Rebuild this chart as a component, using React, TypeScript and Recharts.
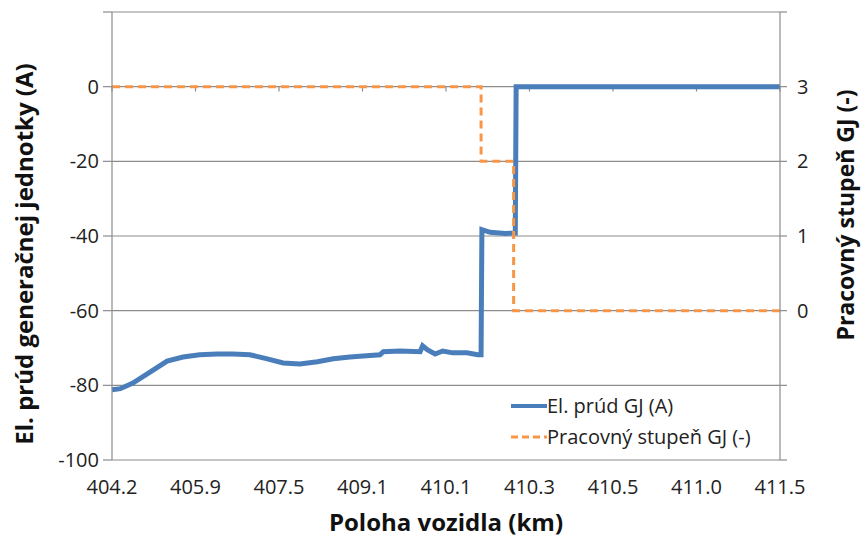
import React from "react";
import {
  CartesianGrid,
  Label,
  Line,
  LineChart,
  ReferenceLine,
  XAxis,
  YAxis,
} from "recharts";

// x positions are in units of the category label step (0 = 404.2, 8 = 411.5)
const xLabels = ["404.2", "405.9", "407.5", "409.1", "410.1", "410.3", "410.5", "411.0", "411.5"];
const xTicks = [0, 1, 2, 3, 4, 5, 6, 7, 8];

const currentPos = [
  0, 0.1, 0.25, 0.46, 0.66, 0.85, 1.05, 1.26, 1.45, 1.65, 1.86, 2.05, 2.25,
  2.46, 2.65, 2.85, 3.05, 3.21, 3.25, 3.45, 3.69, 3.72, 3.78, 3.87, 3.96,
  4.08, 4.25, 4.38, 4.42, 4.43, 4.53, 4.71, 4.83, 4.84, 8,
];
const currentVal = [
  -81.2, -80.9, -79.4, -76.4, -73.5, -72.4, -71.8, -71.6, -71.6, -71.8, -72.9,
  -74.0, -74.3, -73.7, -72.9, -72.4, -72.1, -71.8, -71.0, -70.8, -71.0, -69.4,
  -70.5, -71.6, -70.8, -71.3, -71.3, -71.8, -71.8, -38.3, -39.0, -39.3, -39.2,
  0, 0,
];

const stagePos = [0, 4.42, 4.42, 4.81, 4.81, 8];
const stageVal = [3, 3, 2, 2, 0, 0];

const leftTicks = [-100, -80, -60, -40, -20, 0, 20];
const rightTicks = [-2, -1, 0, 1, 2, 3, 4];

const currentData = currentPos.map((u, i) => ({ u, prud: currentVal[i] }));
const stageData = stagePos.map((u, i) => ({ u, stupen: stageVal[i] }));

const FONT = "'Open Sans', 'Noto Sans', sans-serif";
const GRID = "#8c8c8c";
const BLUE = "#4a7ebb";
const ORANGE = "#f79646";

function LegendBox() {
  return (
    <div
      style={{
        position: "absolute",
        left: 511,
        top: 390,
        fontFamily: FONT,
        fontSize: 20,
        color: "#222",
        lineHeight: "31px",
      }}
    >
      <div style={{ display: "flex", alignItems: "center" }}>
        <svg width={36} height={8}>
          <line x1={0} y1={4} x2={36} y2={4} stroke={BLUE} strokeWidth={4} />
        </svg>
        <span>El. prúd GJ (A)</span>
      </div>
      <div style={{ display: "flex", alignItems: "center" }}>
        <svg width={36} height={8}>
          <line x1={0} y1={4} x2={36} y2={4} stroke={ORANGE} strokeWidth={3} strokeDasharray="7 4" />
        </svg>
        <span>Pracovný stupeň GJ (-)</span>
      </div>
    </div>
  );
}

const titleStyle = { fontSize: 23, fontWeight: 700, fill: "#111", fontFamily: FONT };

export default function App() {
  return (
    <div style={{ position: "absolute", left: 0, top: 0, width: 861, height: 544, background: "#fff" }}>
      <LineChart
        width={861}
        height={544}
        margin={{ top: 12, right: 0, bottom: 0, left: 0 }}
        style={{ fontFamily: FONT }}
      >
        <CartesianGrid yAxisId="left" vertical={false} stroke={GRID} strokeWidth={1.2} />
        <XAxis
          dataKey="u"
          type="number"
          domain={[0, 8]}
          ticks={xTicks}
          tickFormatter={(v: number) => xLabels[v]}
          axisLine={false}
          tickLine={false}
          height={84}
          tick={{ fill: "#222", fontSize: 20 }}
          tickMargin={14}
          interval={0}
        >
          <Label
            content={({ viewBox }: any) => (
              <text
                x={viewBox.x + viewBox.width / 2}
                y={viewBox.y + 71}
                textAnchor="middle"
                style={{ ...titleStyle, fontSize: 24 }}
              >
                Poloha vozidla (km)
              </text>
            )}
          />
        </XAxis>
        <YAxis
          yAxisId="left"
          domain={[-100, 20]}
          ticks={leftTicks}
          tickFormatter={(v: number) => (v === 20 ? "" : String(v))}
          width={112}
          axisLine={{ stroke: GRID, strokeWidth: 1.2 }}
          tickLine={{ stroke: GRID, strokeWidth: 1.2 }}
          tickSize={9}
          tick={{ fill: "#222", fontSize: 20 }}
          tickMargin={4}
        >
          <Label
            content={({ viewBox }: any) => {
              const cx = viewBox.x + 23;
              const cy = viewBox.y + viewBox.height / 2 + 18;
              return (
                <text
                  x={cx}
                  y={cy}
                  transform={`rotate(-90 ${cx} ${cy})`}
                  textAnchor="middle"
                  dominantBaseline="central"
                  style={{ ...titleStyle, fontSize: 24 }}
                >
                  El. prúd generačnej jednotky (A)
                </text>
              );
            }}
          />
        </YAxis>
        <YAxis
          yAxisId="right"
          orientation="right"
          domain={[-2, 4]}
          ticks={rightTicks}
          tickFormatter={(v: number) => (v >= 0 && v <= 3 ? String(v) : "")}
          width={81}
          axisLine={{ stroke: GRID, strokeWidth: 1.2 }}
          tickLine={{ stroke: GRID, strokeWidth: 1.2 }}
          tickSize={7}
          tick={{ fill: "#222", fontSize: 20 }}
          tickMargin={10}
        >
          <Label
            content={({ viewBox }: any) => {
              const cx = viewBox.x + 65;
              const cy = viewBox.y + 203;
              return (
                <text
                  x={cx}
                  y={cy}
                  transform={`rotate(-90 ${cx} ${cy})`}
                  textAnchor="middle"
                  dominantBaseline="central"
                  style={titleStyle}
                >
                  Pracovný stupeň GJ (-)
                </text>
              );
            }}
          />
        </YAxis>
        {xTicks.map((t) => (
          <ReferenceLine
            key={t}
            yAxisId="left"
            segment={[
              { x: t, y: 0 },
              { x: t, y: -1.3 },
            ]}
            stroke={GRID}
            strokeWidth={1.2}
          />
        ))}
        <Line
          yAxisId="left"
          data={currentData}
          dataKey="prud"
          name="El. prúd GJ (A)"
          type="linear"
          stroke={BLUE}
          strokeWidth={5}
          dot={false}
          isAnimationActive={false}
        />
        <Line
          yAxisId="right"
          data={stageData}
          dataKey="stupen"
          name="Pracovný stupeň GJ (-)"
          type="linear"
          stroke={ORANGE}
          strokeWidth={3}
          strokeDasharray="8 5"
          dot={false}
          isAnimationActive={false}
        />
      </LineChart>
      <LegendBox />
    </div>
  );
}
